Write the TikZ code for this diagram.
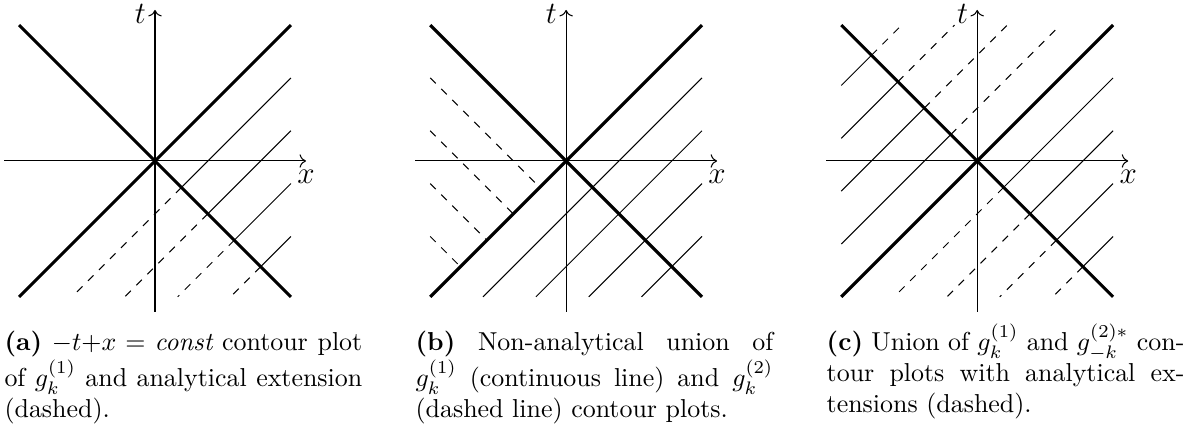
\documentclass[tikz,border=0pt]{standalone}
\usepackage{amsmath,amssymb}
\usepackage{xcolor}
\usepackage{tikz}
\usetikzlibrary{arrows.meta,positioning,calc}
\tikzset{
  axis/.style={->},
  cone/.style={very thick},
  cont/.style={thin},
  ext/.style={thin, dashed},
  lbl/.style={font=\large},
  capt/.style={anchor=base west, inner sep=0pt, text width=138pt, align=justify},
}

\begin{document}
\begin{tikzpicture}[x=1.0235cm, y=1.0235cm]
  \useasboundingbox (-2.053,-3.589) rectangle (13.775,2.132);
  % panel (a)
  \begin{scope}
    \draw[axis] (-2,0) -- (2,0) node[lbl, below] (xa) {$x$};
    \draw[axis] (0,-2) -- (0,2) node[lbl, left, yshift=-1.5pt] (ta) {$t$};
    \draw[cone] (-1.8,-1.8) -- (1.8,1.8);
    \draw[cone] (-1.8,1.8) -- (1.8,-1.8);
    \foreach \c in {0.7,1.4,2.1,2.8} {
      \draw[cont] (1.8,1.8-\c) -- (\c/2,-\c/2);
      \draw[ext] (\c/2,-\c/2) -- (\c-1.8,-1.8);
    }
    \node[capt] (capa) at (-2,-2.513)
      {\textbf{(a)} $-t{+}x = \textit{const}$ contour plot of $g_k^{(1)}$ and analytical extension (dashed).};
  \end{scope}
  % panel (b)
  \begin{scope}[xshift=5.445cm*1.0235]
    \draw[axis] (-2,0) -- (2,0) node[lbl, below] (xb) {$x$};
    \draw[axis] (0,-2) -- (0,2) node[lbl, left, yshift=-1.5pt] (tb) {$t$};
    \draw[cone] (-1.8,-1.8) -- (1.8,1.8);
    \draw[cone] (-1.8,1.8) -- (1.8,-1.8);
    \foreach \c in {0.7,1.4,2.1,2.8} {
      \draw[cont] (1.8,1.8-\c) -- (\c-1.8,-1.8);
      \draw[ext] (-1.8,1.8-\c) -- (-\c/2,-\c/2);
    }
    \node[capt] (capb) at (-2,-2.513)
      {\textbf{(b)} Non-analytical union of $g_k^{(1)}$ (continuous line) and $g_k^{(2)}$ (dashed line) contour plots.};
  \end{scope}
  % panel (c)
  \begin{scope}[xshift=10.89cm*1.0235]
    \draw[axis] (-2,0) -- (2,0) node[lbl, below] (xc) {$x$};
    \draw[axis] (0,-2) -- (0,2) node[lbl, left, yshift=-1.5pt] (tc) {$t$};
    \draw[cone] (-1.8,-1.8) -- (1.8,1.8);
    \draw[cone] (-1.8,1.8) -- (1.8,-1.8);
    \foreach \c in {0.7,1.4,2.1,2.8} {
      \draw[cont] (1.8,1.8-\c) -- (\c/2,-\c/2);
      \draw[ext] (\c/2,-\c/2) -- (\c-1.8,-1.8);
      \draw[cont] (-1.8,\c-1.8) -- (-\c/2,\c/2);
      \draw[ext] (-\c/2,\c/2) -- (1.8-\c,1.8);
    }
    \node[capt] (capc) at (-2,-2.513)
      {\textbf{(c)} Union of $g_k^{(1)}$ and $g_{-k}^{(2)*}$ contour plots with analytical ex\-tensions (dashed).};
  \end{scope}
\end{tikzpicture}
\end{document}
